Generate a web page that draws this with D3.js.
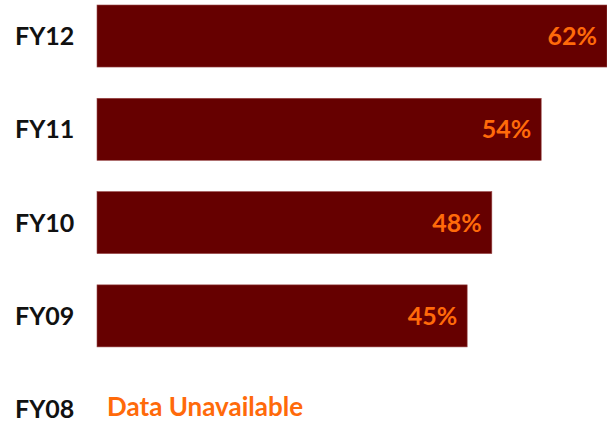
<!DOCTYPE html>
<html>
<head>
<meta charset="utf-8">
<script src="https://cdn.jsdelivr.net/npm/d3@7"></script>
<style>
  html, body { margin: 0; padding: 0; background: #fff; }
  svg { display: block; }
  text { font-family: Lato, "Open Sans", sans-serif; font-weight: bold; }
</style>
</head>
<body>
<div id="chart"></div>
<script>
(function () {
  var years = ['FY12', 'FY11', 'FY10', 'FY09', 'FY08'];
  var shares = [62, 54, 48, 45, null];
  var missingLabel = 'Data Unavailable';

  var width = 607;
  var height = 423;

  var svg = d3.select('#chart')
    .append('svg')
    .attr('width', width)
    .attr('height', height);

  var x = d3.scaleLinear().domain([0, 62]).range([97, 607]);
  var y = d3.scaleBand()
    .domain(years)
    .range([5, 440.2])
    .paddingInner(0.335)
    .paddingOuter(0)
    .align(0);

  var rows = years.map(function (yr, i) {
    return { year: yr, value: shares[i] };
  });

  svg.selectAll('rect.bar')
    .data(rows.filter(function (d) { return d.value != null; }))
    .enter().append('rect')
    .attr('class', 'bar')
    .attr('x', x(0))
    .attr('y', function (d) { return y(d.year); })
    .attr('width', function (d) { return x(d.value) - x(0); })
    .attr('height', y.bandwidth())
    .attr('fill', '#660000')
    .attr('stroke', '#9a4a4a')
    .attr('stroke-width', 0.6);

  svg.selectAll('text.val')
    .data(rows.filter(function (d) { return d.value != null; }))
    .enter().append('text')
    .attr('class', 'val')
    .attr('x', function (d) { return x(d.value) - 10; })
    .attr('y', function (d) { return y(d.year) + y.bandwidth() / 2 + 9; })
    .attr('text-anchor', 'end')
    .attr('fill', '#ff6a0a')
    .style('font-size', '25px')
    .text(function (d) { return d.value + '%'; });

  svg.selectAll('text.cat')
    .data(rows)
    .enter().append('text')
    .attr('class', 'cat')
    .attr('x', 15)
    .attr('y', function (d) { return y(d.year) + y.bandwidth() / 2 + 9; })
    .attr('fill', '#111')
    .style('font-size', '25px')
    .text(function (d) { return d.year; });

  svg.selectAll('text.na')
    .data(rows.filter(function (d) { return d.value == null; }))
    .enter().append('text')
    .attr('class', 'na')
    .attr('x', 107)
    .attr('y', function (d) { return y(d.year) + y.bandwidth() / 2 + 7; })
    .attr('fill', '#ff6a0a')
    .style('font-size', '26px')
    .text(missingLabel);
})();
</script>
</body>
</html>
